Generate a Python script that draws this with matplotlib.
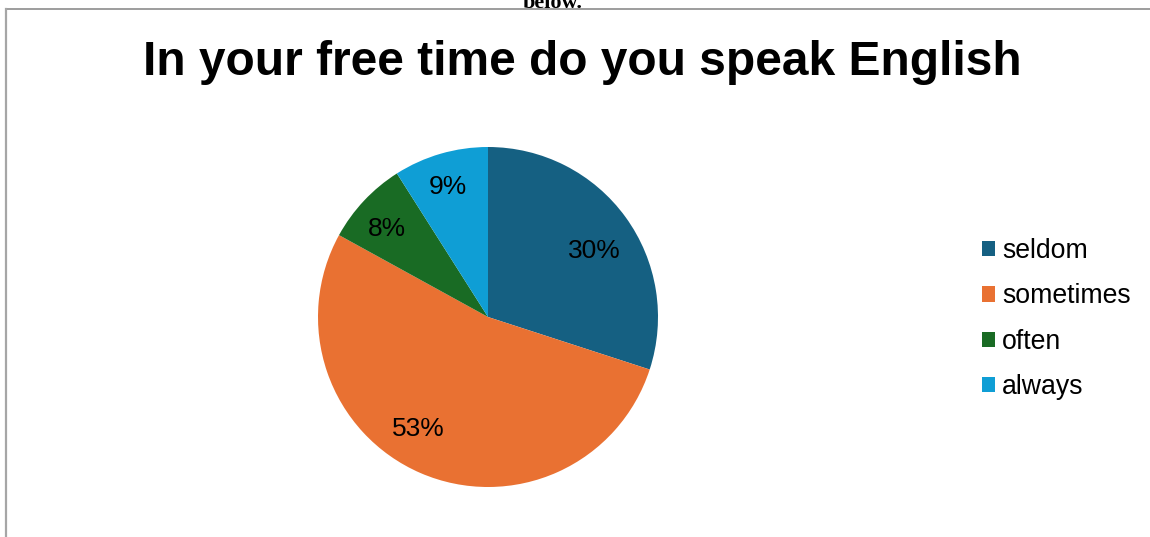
import numpy as np
import matplotlib.pyplot as plt
from matplotlib.lines import Line2D

answers = ['seldom', 'sometimes', 'often', 'always']
shares = [30, 53, 8, 9]
colors = ['#156082', '#E97132', '#196B24', '#0F9ED5']

plt.rcParams['font.family'] = ['Liberation Sans', 'DejaVu Sans']

W, H = 1150, 537
fig = plt.figure(figsize=(W / 100, H / 100), dpi=100)

# pie centred at (488, 317) px with radius 170 px
cx, cy, r = 488, 317, 170
ax = fig.add_axes([(cx - r) / W, (H - cy - r) / H, 2 * r / W, 2 * r / H])
wedges, texts, autotexts = ax.pie(
    shares, colors=colors, startangle=90, counterclock=False,
    autopct='%1.0f%%', pctdistance=0.78,
    textprops={'fontsize': 19, 'color': 'black'},
    wedgeprops={'linewidth': 0})

# place the percentage labels a little off the wedge middles
shift = [-3, -9.3, 1.2, 0.5]
rads = [0.745, 0.762, 0.80, 0.817]
for w, t, d, rad in zip(wedges, autotexts, shift, rads):
    mid = np.deg2rad((w.theta1 + w.theta2) / 2 + d)
    t.set_position((rad * np.cos(mid), rad * np.sin(mid) - 0.015))

ax.set_xlim(-1, 1)
ax.set_ylim(-1, 1)
ax.set_aspect('equal')

fig.text(582 / W, 1 - 75 / H, 'In your free time do you speak English',
         ha='center', va='baseline', fontsize=34.5, fontweight='bold')

# tail of the caption above the chart frame
fig.text(553 / W, 1 - 8 / H, 'below.', ha='center', va='baseline',
         fontsize=16, fontweight='bold', family='Liberation Serif')

# chart frame
fig.add_artist(Line2D([5.5 / W, 1], [1 - 9 / H, 1 - 9 / H], color='#8c8c8c', lw=1.2))
fig.add_artist(Line2D([5.5 / W, 5.5 / W], [0, 1 - 9 / H], color='#a6a6a6', lw=1.6))

fig.legend(wedges, answers, loc='center left',
           bbox_to_anchor=(982 / W, 1 - 319 / H), frameon=False,
           fontsize=19.2, handlelength=0.5, handleheight=0.5,
           handletextpad=0.25, labelspacing=0.72, borderpad=0,
           borderaxespad=0)

fig.savefig('out.png', dpi=100)
